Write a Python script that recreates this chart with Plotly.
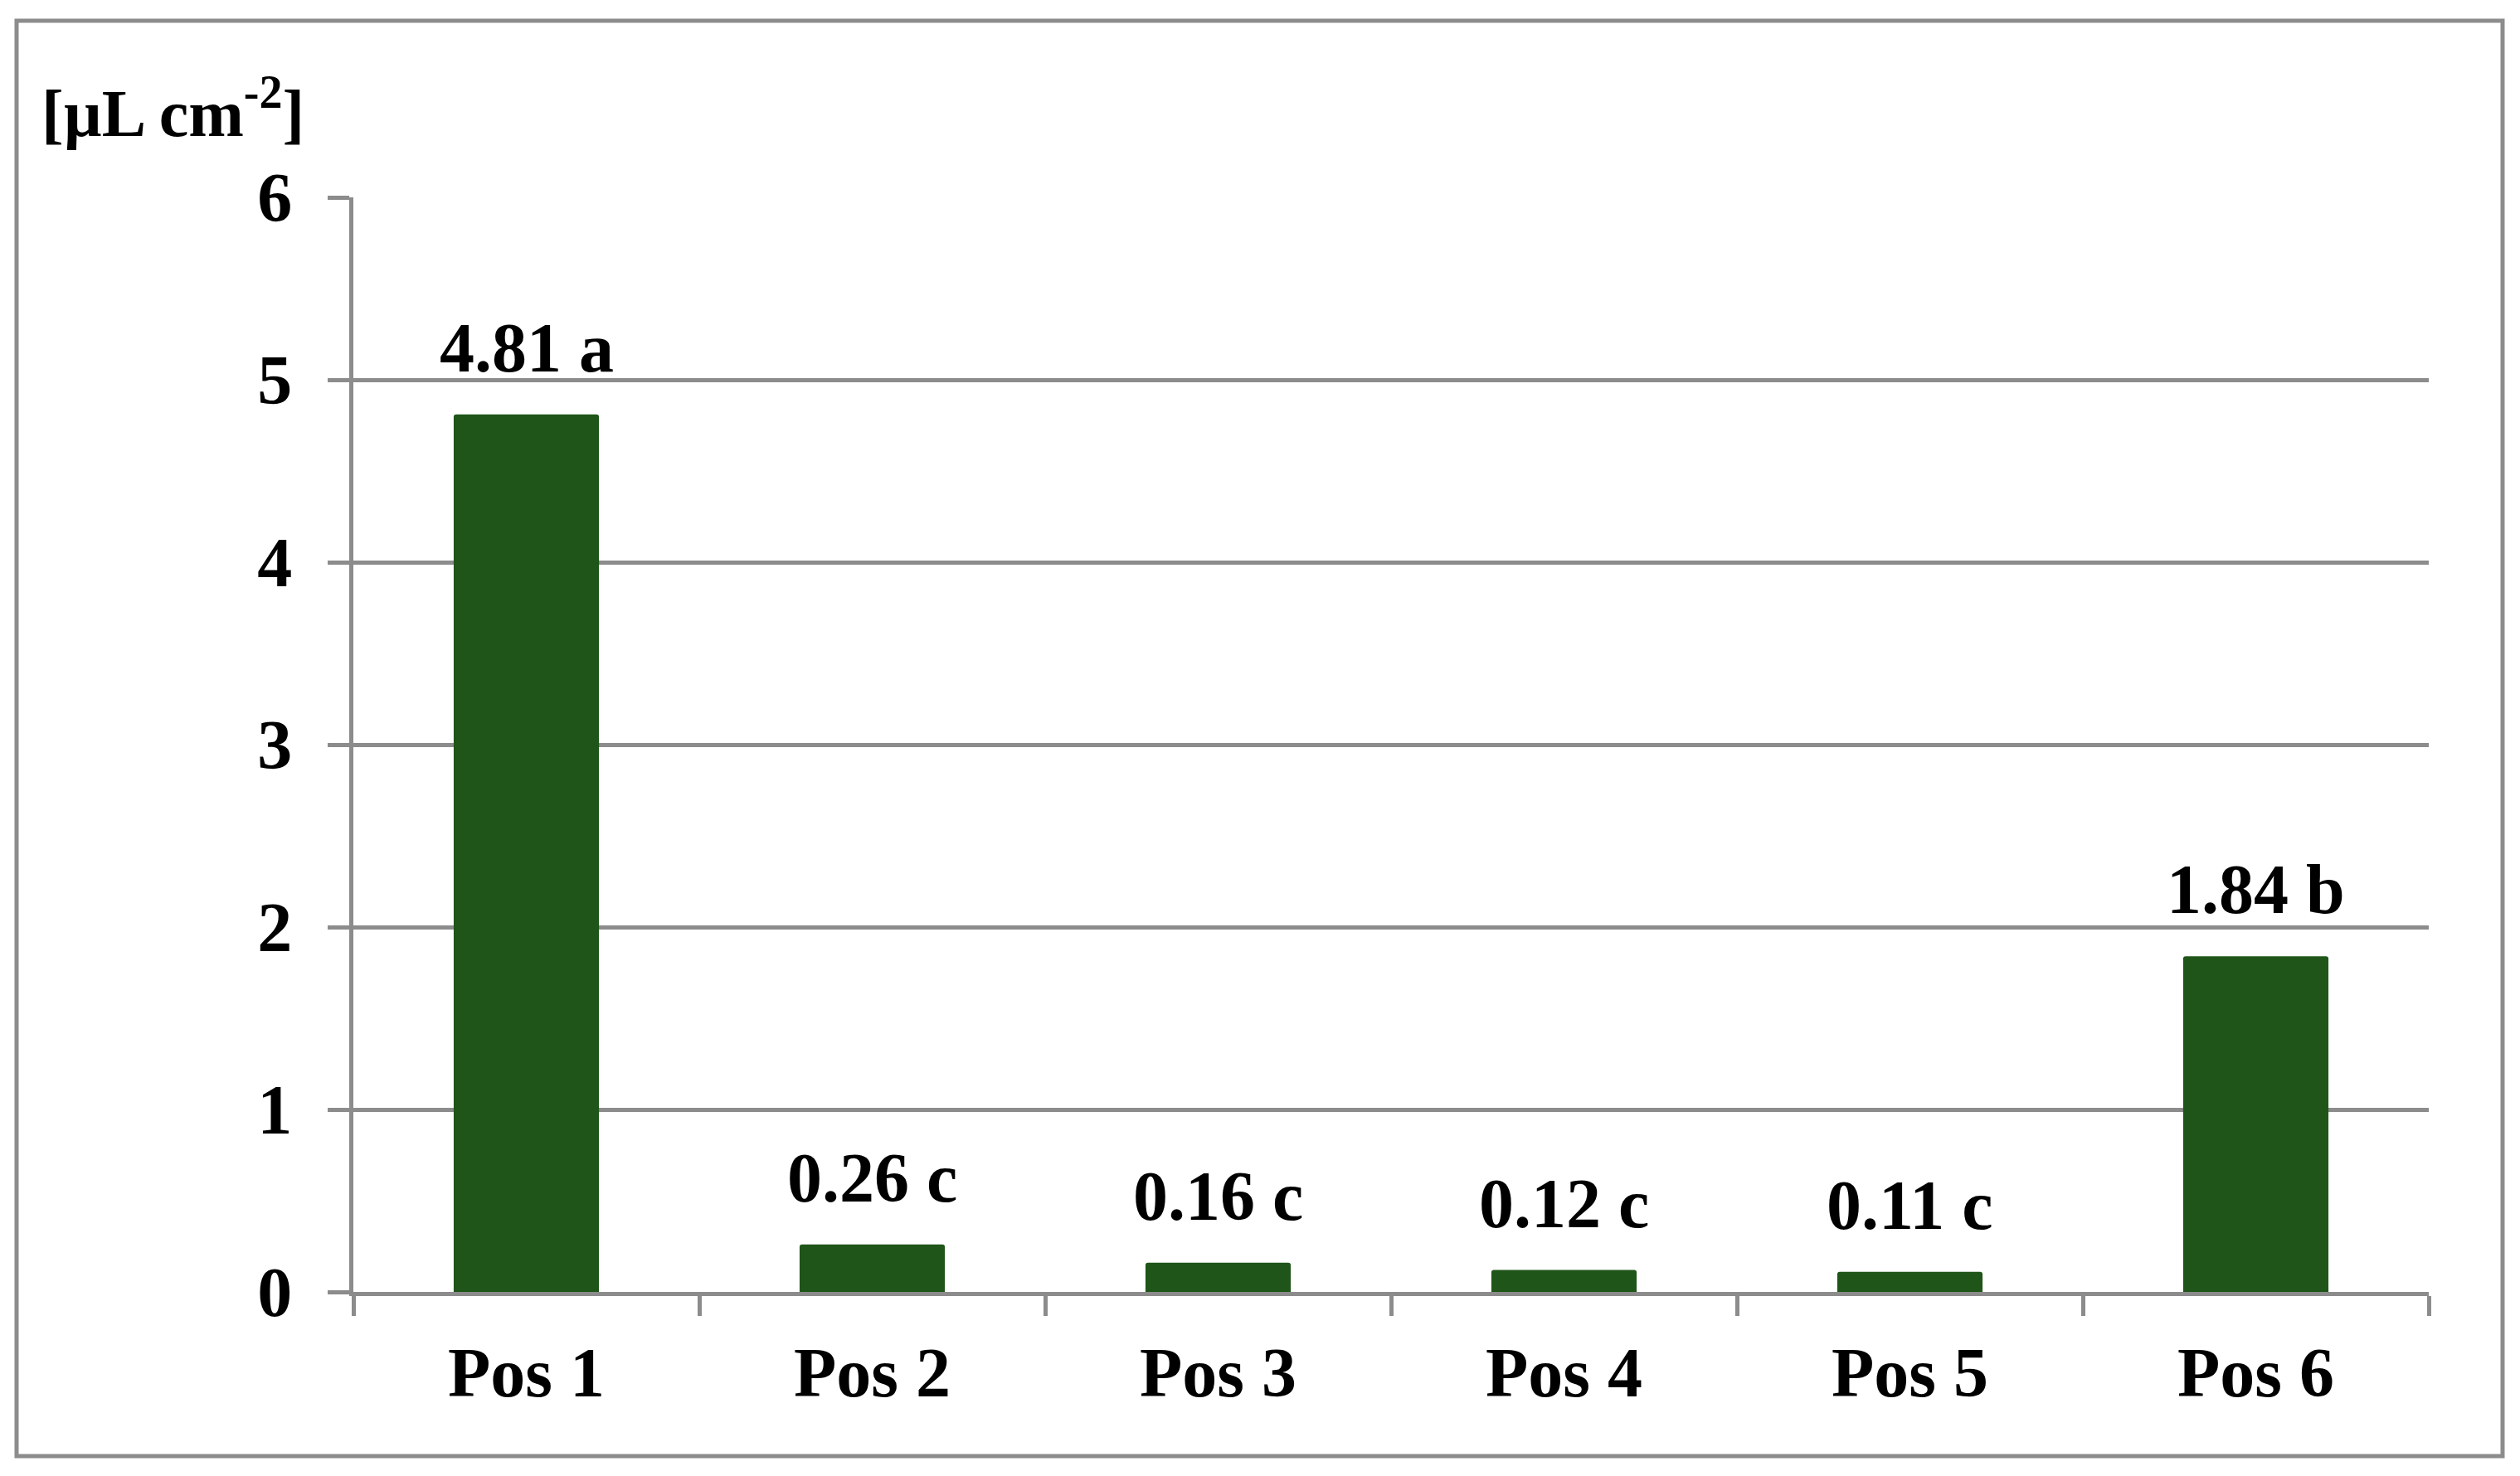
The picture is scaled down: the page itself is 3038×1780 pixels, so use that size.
import plotly.graph_objects as go

# Values
positions = ["Pos 1", "Pos 2", "Pos 3", "Pos 4", "Pos 5", "Pos 6"]
volumes = [4.81, 0.26, 0.16, 0.12, 0.11, 1.84]
letters = ["a", "c", "c", "c", "c", "b"]
y_ticks = [0, 1, 2, 3, 4, 5, 6]

# the page body has an 8px margin, so work in shifted pixel coordinates
off = 8
W, H = 3038 - 2 * off, 1780 - 2 * off
left, right, top, bottom = 426 - off, 2928 - off, 238 - off, 1558 - off  # plot area
pw, ph = right - left, bottom - top

def px_x(x):
    return (x - off - left) / pw

def px_y(y):
    return (bottom - (y - off)) / ph

grey = "#8C8C8C"
green = "#1F5519"
font = dict(family="Liberation Serif", size=84, color="black", weight="bold")

fig = go.Figure(go.Bar(
    x=positions,
    y=volumes,
    width=0.42,
    marker=dict(color=green, line=dict(width=0), cornerradius=3),
    hoverinfo="skip",
))

# value + significance letter above each bar
for p, v, l in zip(positions, volumes, letters):
    fig.add_annotation(x=p, y=v, text=f"<b>{v:.2f} {l}</b>", showarrow=False,
                       xanchor="center", yanchor="bottom", yshift=32, font=font)

# unit label in the upper left corner
fig.add_annotation(xref="paper", yref="paper", x=px_x(48), y=px_y(130),
                   xanchor="left", yanchor="middle", showarrow=False,
                   text="<b>[µL cm<sup>-2</sup>]</b>",
                   font=dict(family="Liberation Serif", size=80, color="black"))

# outer frame round the whole chart
fig.add_shape(type="rect", xref="paper", yref="paper",
              x0=px_x(20), x1=px_x(3017), y0=px_y(1756), y1=px_y(25),
              line=dict(color=grey, width=5), fillcolor="rgba(0,0,0,0)")

fig.update_layout(
    width=W, height=H,
    margin=dict(l=left, r=W - right, t=top, b=H - bottom, pad=0),
    plot_bgcolor="white", paper_bgcolor="white",
    showlegend=False,
    bargap=0.58,
)
fig.update_xaxes(
    showline=True, linecolor=grey, linewidth=5,
    ticks="outside", tickson="boundaries", ticklen=24, tickwidth=5, tickcolor=grey,
    tickfont=font, ticklabelstandoff=20, showgrid=False,
)
fig.update_yaxes(
    range=[0, 6], tickvals=y_ticks,
    showline=True, linecolor=grey, linewidth=5,
    showgrid=True, gridcolor=grey, gridwidth=5, zeroline=False,
    ticks="outside", ticklen=26, tickwidth=5, tickcolor=grey,
    tickfont=font, ticklabelstandoff=26,
)

fig.write_html("out.html")
